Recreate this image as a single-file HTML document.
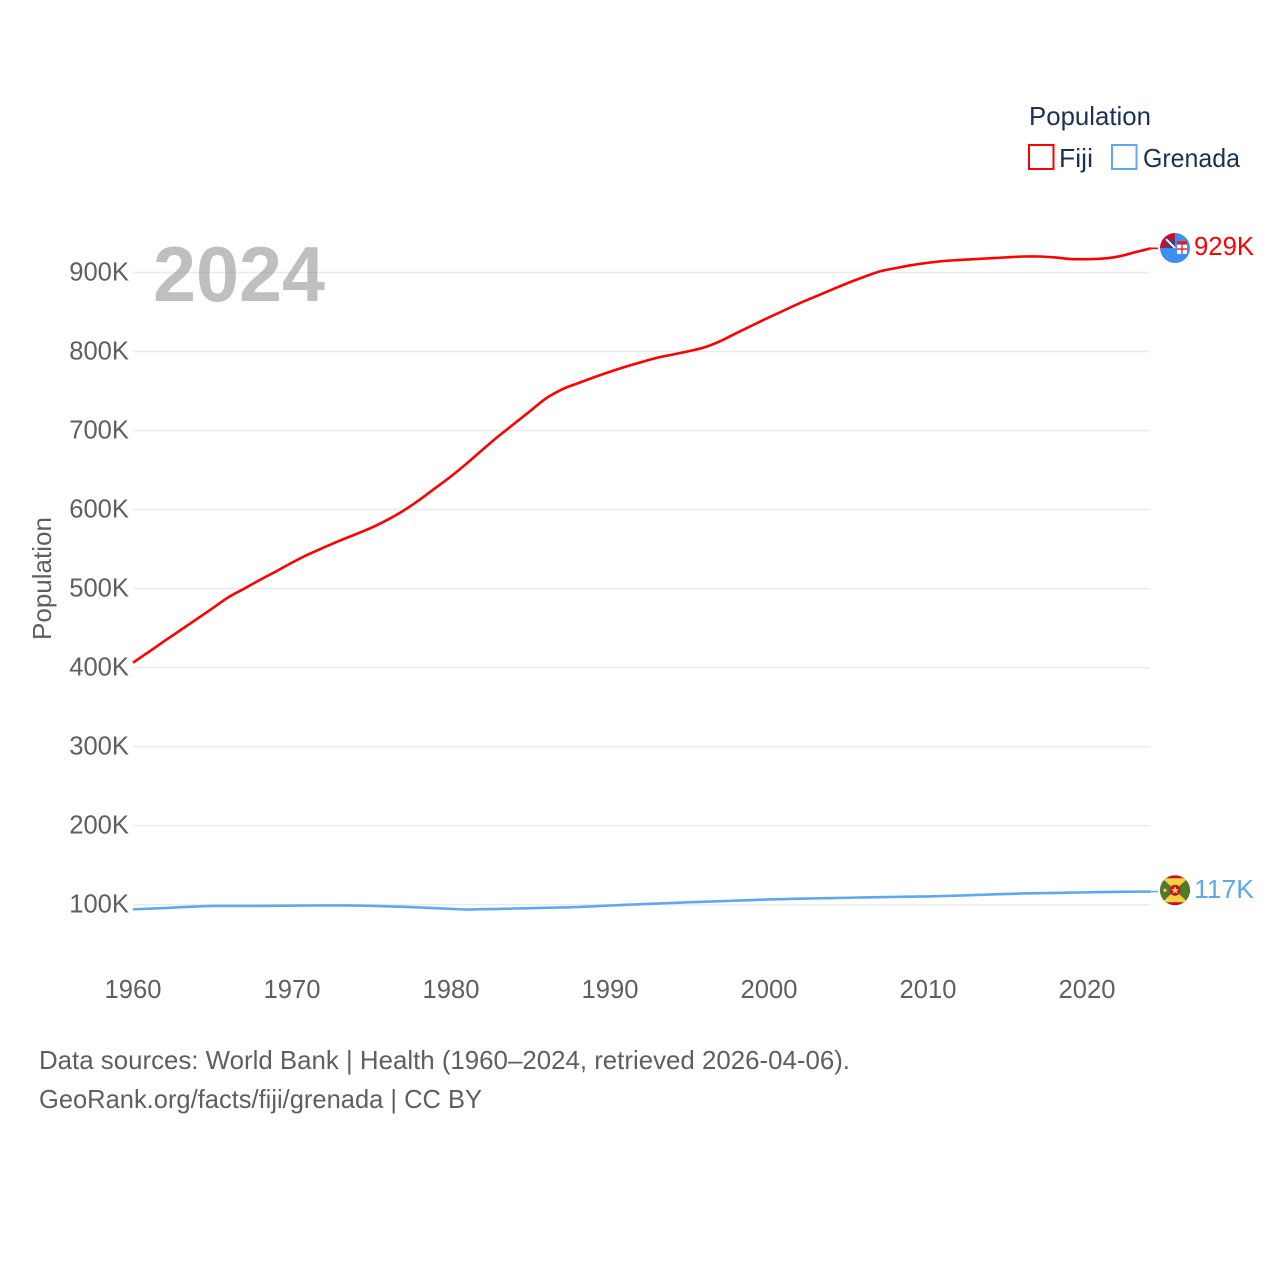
<!DOCTYPE html>
<html lang="en">
<head>
<meta charset="utf-8">
<title>Population of Fiji and Grenada</title>
<style>
html,body{margin:0;padding:0;background:#fff}
#chart{display:block}
text{font-family:"Liberation Sans",sans-serif}
</style>
</head>
<body>
<svg id="chart" width="1280" height="1280" viewBox="0 0 1280 1280" xmlns="http://www.w3.org/2000/svg">
  <defs>
    <clipPath id="flag-clip"><circle cx="0" cy="0" r="15"/></clipPath>
  </defs>
  <rect width="1280" height="1280" fill="#fff"/>
  <g id="grid"></g>
  <g id="y-ticks"></g>
  <g id="x-ticks"></g>
  <text transform="translate(51,640) rotate(-90)" font-size="25.6" fill="#5f5f5f" textLength="123" lengthAdjust="spacingAndGlyphs">Population</text>
  <text x="153" y="301" font-size="78" font-weight="700" fill="#8a8a8a" fill-opacity="0.55" textLength="172" lengthAdjust="spacingAndGlyphs">2024</text>
  <g id="series"></g>

  <g id="flag-fiji">
    <g clip-path="url(#flag-clip)">
      <rect x="-15" y="-15" width="30" height="30" fill="#3a8ff0"/>
      <rect x="-15" y="-15" width="15" height="15" fill="#c8102e"/>
      <rect x="-9" y="-9" width="9" height="9" fill="#2b4a8f" fill-opacity=".7"/>
      <path d="M-9-9L0 0" stroke="#fff" stroke-width="1.8"/>
      <rect x="2" y="-7" width="10" height="13" rx="1" fill="#fff"/>
      <rect x="2" y="-7" width="10" height="3.5" fill="#d5202e"/>
      <path d="M7-3.5V6M2 1H12" stroke="#d5202e" stroke-width="1.3"/>
    </g>
  </g>

  <g id="flag-grenada">
    <g clip-path="url(#flag-clip)">
      <rect x="-15" y="-15" width="30" height="30" fill="#c8102e"/>
      <path d="M-13-12H13L0 0Z" fill="#f6d33c"/>
      <path d="M-13 12H13L0 0Z" fill="#f6d33c"/>
      <path d="M-15-12H-13L0 0-13 12H-15Z" fill="#4e7a2e"/>
      <path d="M15-12H13L0 0 13 12H15Z" fill="#4e7a2e"/>
      <circle r="5.5" fill="#c8102e"/>
      <path d="M0-4L1.2-1.2 4-1.2 1.8.6 2.6 3.4 0 1.8-2.6 3.4-1.8.6-4-1.2-1.2-1.2Z" fill="#f6d33c"/>
      <circle cx="-10" cy="0" r="1.6" fill="#f6d33c"/>
    </g>
  </g>

  <g id="end-labels"></g>

  <g id="legend">
    <text x="1029" y="125" font-size="25.6" fill="#1b3252" textLength="122" lengthAdjust="spacingAndGlyphs">Population</text>
    <rect x="1029" y="145" width="24.5" height="24" fill="#fff" stroke="#ff0000" stroke-width="2"/>
    <text x="1059" y="167" font-size="25.6" fill="#1b3252" textLength="34" lengthAdjust="spacingAndGlyphs">Fiji</text>
    <rect x="1112" y="145" width="24.5" height="24" fill="#fff" stroke="#5fa8ee" stroke-width="2"/>
    <text x="1143" y="167" font-size="25.6" fill="#1b3252" textLength="97" lengthAdjust="spacingAndGlyphs">Grenada</text>
  </g>

  <text x="39" y="1069" font-size="25.6" fill="#5f5f5f" textLength="811" lengthAdjust="spacingAndGlyphs">Data sources: World Bank | Health (1960–2024, retrieved 2026-04-06).</text>
  <text x="39" y="1108" font-size="25.6" fill="#5f5f5f" textLength="443" lengthAdjust="spacingAndGlyphs">GeoRank.org/facts/fiji/grenada | CC BY</text>
</svg>
<script>
const startYear = 1960;
const xTickYears = [1960, 1970, 1980, 1990, 2000, 2010, 2020];
const yTickValues = [100, 200, 300, 400, 500, 600, 700, 800, 900];
const fijiValues = [
  406.2, 420, 434, 447.6, 461.3, 475, 489, 500, 511.2, 521.8,
  532.8, 543, 552, 560.6, 568.7, 577, 587, 598.5, 612, 627,
  642, 658.5, 676, 693, 709, 725, 741, 752.2, 760, 767.4,
  774.4, 780.8, 786.7, 792.2, 796.4, 800.6, 805.7, 813.7, 823.8, 833.5,
  843.2, 852.5, 861.7, 870.2, 878.7, 887, 894.6, 901.5, 905.6, 909.4,
  912.3, 914.5, 915.8, 917, 918, 919.2, 920.2, 920.2, 919, 917,
  916.8, 917.6, 920.3, 925.5, 930.5
];
const grenadaValues = [
  94.2, 95, 95.8, 96.8, 97.7, 98.4, 98.4, 98.4, 98.4, 98.6,
  98.8, 99, 99.1, 99.1, 98.9, 98.5, 97.9, 97.3, 96.5, 95.6,
  94.7, 93.9, 94.3, 94.7, 95.2, 95.6, 96, 96.5, 97.1, 98,
  99, 99.8, 100.7, 101.5, 102.3, 103.1, 103.8, 104.5, 105.2, 105.9,
  106.6, 107.1, 107.6, 108, 108.4, 108.8, 109.2, 109.5, 109.9, 110.2,
  110.5, 111, 111.6, 112.3, 113, 113.6, 114.2, 114.6, 114.9, 115.3,
  115.6, 116, 116.3, 116.5, 116.6
];
const endLabels = ['929K', '117K'];

const svgNS = 'http://www.w3.org/2000/svg';
const xScale = function (year) { return 133 + (year - startYear) * 15.9; };
const yScale = function (value) { return 904.7 - (value - 100) * 0.7903; };

function make(tag, parent, attrs, content) {
  const el = document.createElementNS(svgNS, tag);
  Object.keys(attrs).forEach(function (k) { el.setAttribute(k, attrs[k]); });
  if (content !== undefined) el.textContent = content;
  parent.appendChild(el);
  return el;
}

const gridGroup = document.getElementById('grid');
const yTickGroup = document.getElementById('y-ticks');
yTickValues.forEach(function (v) {
  const gridLine = make('line', gridGroup, { x1: 133, x2: 1150, y1: yScale(v), y2: yScale(v), stroke: '#ebebeb', 'stroke-width': 1.5 });
  
  
  const tickLabel = make('text', yTickGroup, { x: 129, y: yScale(v) + 8, 'text-anchor': 'end', 'font-size': 25.6, fill: '#5f5f5f' }, v + 'K');
  
  
});

const xTickGroup = document.getElementById('x-ticks');
xTickYears.forEach(function (year) {
  const tickLabel = make('text', xTickGroup, { x: xScale(year), y: 998, 'text-anchor': 'middle', 'font-size': 25.6, fill: '#5f5f5f' }, String(year));
  
  
});

function smoothPath(values) {
  const pts = values.map(function (v, i) { return [xScale(startYear + i), yScale(v)]; });
  let d = 'M' + pts[0][0] + ',' + pts[0][1];
  for (let i = 0; i < pts.length - 1; i++) {
    const p0 = pts[Math.max(i - 1, 0)];
    const p1 = pts[i];
    const p2 = pts[i + 1];
    const p3 = pts[Math.min(i + 2, pts.length - 1)];
    const c1x = p1[0] + (p2[0] - p0[0]) / 6;
    const c1y = p1[1] + (p2[1] - p0[1]) / 6;
    const c2x = p2[0] - (p3[0] - p1[0]) / 6;
    const c2y = p2[1] - (p3[1] - p1[1]) / 6;
    d += 'C' + c1x + ',' + c1y + ' ' + c2x + ',' + c2y + ' ' + p2[0] + ',' + p2[1];
  }
  return d;
}
function drawSeries(values, color) {
  return make('path', document.getElementById('series'), { d: smoothPath(values), fill: 'none', stroke: color, 'stroke-width': 2.6, 'stroke-linejoin': 'round' });
}
function drawConnector(values, color) {
  const lastY = yScale(values[values.length - 1]);
  const lastX = xScale(startYear + values.length - 1);
  return make('line', document.getElementById('series'), { x1: lastX, x2: 1158, y1: lastY, y2: lastY, stroke: color, 'stroke-width': 1.6 });
}

const fijiLine = drawSeries(fijiValues, '#ff0000');


const grenadaLine = drawSeries(grenadaValues, '#5fa8ee');


const fijiConnector = drawConnector(fijiValues, '#ff0000');


const grenadaConnector = drawConnector(grenadaValues, '#5fa8ee');



const fijiEndY = yScale(fijiValues[fijiValues.length - 1]);
const grenadaEndY = yScale(grenadaValues[grenadaValues.length - 1]);
document.getElementById('flag-fiji').setAttribute('transform', 'translate(1175,' + (fijiEndY - 0.3) + ')');
document.getElementById('flag-grenada').setAttribute('transform', 'translate(1175,' + (grenadaEndY - 1.3) + ')');

const endGroup = document.getElementById('end-labels');
const fijiEnd = make('text', endGroup, { x: 1194, y: fijiEndY + 6.5, 'font-size': 25.6, fill: '#ff0000', textLength: 60, lengthAdjust: 'spacingAndGlyphs' }, endLabels[0]);


const grenadaEnd = make('text', endGroup, { x: 1194, y: grenadaEndY + 6.5, 'font-size': 25.6, fill: '#5fa8ee', textLength: 60, lengthAdjust: 'spacingAndGlyphs' }, endLabels[1]);


</script>
</body>
</html>
